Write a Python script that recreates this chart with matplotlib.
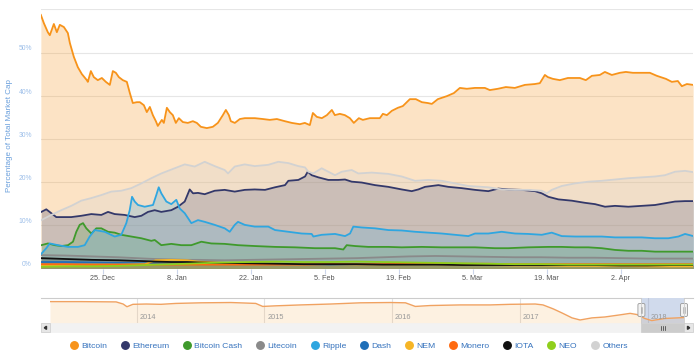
import numpy as np
import pandas as pd
import matplotlib
matplotlib.use("Agg")
import matplotlib.pyplot as plt
import matplotlib.dates as mdates
from matplotlib.patches import Rectangle, FancyBboxPatch, Polygon
from matplotlib.lines import Line2D

plt.rcParams['font.family'] = ['Liberation Sans', 'DejaVu Sans']

# ---------------- data ----------------
START = pd.Timestamp('2017-12-13')   # day offsets below are counted from this date

series_names = ['Bitcoin', 'Ethereum', 'Bitcoin Cash', 'Litecoin', 'Ripple', 'Dash',
                'NEM', 'Monero', 'IOTA', 'NEO', 'Others']
series_colors = ['#f7931a', '#33386a', '#3f9a2c', '#8a8a8a', '#2fa6e0', '#1f6fb8',
                 '#f6b526', '#ff6a10', '#111111', '#8fcf1c', '#d2d2d2']

btc_days = [0.3, 0.87, 1.62, 2.0, 2.76, 3.33, 3.89, 4.65, 5.41, 5.79,
            6.54, 7.3, 8.06, 9.0, 9.19, 9.76, 10.32, 11.08, 11.84, 12.6,
            13.35, 13.92, 14.49, 15.06, 15.81, 16.57, 17.14, 17.7, 18.46, 19.03,
            19.79, 20.35, 20.92, 21.49, 22.06, 22.43, 23.19, 23.57, 24.14, 24.7,
            25.27, 25.84, 26.41, 27.16, 28.11, 29.06, 29.81, 30.57, 31.7, 32.84,
            33.79, 34.73, 35.3, 35.87, 36.24, 37.0, 37.95, 38.89, 40.78, 42.3,
            43.62, 44.95, 46.46, 47.78, 49.3, 50.24, 51.19, 51.76, 52.51, 53.46,
            54.41, 55.35, 55.92, 56.86, 57.81, 58.76, 59.51, 60.46, 61.22, 62.54,
            64.43, 65.0, 65.76, 66.7, 67.84, 68.78, 70.11, 71.24, 72.38, 73.51,
            74.27, 75.4, 77.11, 78.43, 79.57, 80.89, 82.4, 84.3, 85.24, 86.76,
            88.27, 89.97, 91.86, 93.75, 94.7, 95.65, 96.21, 97.16, 98.48, 100.0,
            102.27, 103.4, 104.54, 106.05, 107.0, 108.32, 109.84, 110.97, 112.29, 113.62,
            115.51, 116.83, 118.54, 119.67, 120.8, 121.56, 122.51, 123.7]
btc_vals = [58.7, 56.8, 54.7, 54.0, 56.6, 54.7, 56.4, 55.9, 54.5, 52.2,
            49.0, 46.6, 45.0, 43.6, 43.2, 45.7, 44.3, 43.6, 44.1, 43.2,
            42.5, 45.7, 45.3, 44.3, 43.6, 43.2, 40.6, 38.3, 38.5, 38.5,
            37.8, 36.2, 37.4, 35.5, 34.1, 33.0, 34.4, 33.7, 37.2, 36.2,
            35.5, 33.7, 34.8, 33.9, 33.7, 34.1, 33.7, 32.8, 32.5, 32.8,
            33.7, 35.5, 36.7, 35.5, 34.1, 33.7, 34.6, 34.8, 34.8, 34.6,
            34.4, 34.6, 34.1, 33.7, 33.4, 33.7, 33.2, 36.0, 35.1, 34.8,
            35.5, 36.7, 35.5, 35.8, 35.5, 34.8, 33.7, 34.8, 34.4, 34.8,
            34.8, 35.8, 35.5, 36.5, 37.2, 37.6, 39.2, 39.2, 38.5, 38.3,
            38.1, 39.2, 39.9, 40.6, 41.8, 41.6, 41.8, 41.8, 41.3, 41.6,
            42.0, 41.8, 42.5, 42.7, 42.9, 44.8, 44.3, 43.9, 43.6, 44.1,
            44.1, 43.6, 44.6, 44.8, 45.5, 44.8, 45.3, 45.5, 45.3, 45.3,
            45.3, 44.6, 43.9, 43.2, 43.4, 42.2, 42.7, 42.5]

eth_days = [0.39, 1.33, 2.28, 3.22, 4.81, 6.06, 7.95, 9.85, 11.74, 13.01,
            14.27, 16.16, 18.06, 19.31, 20.57, 21.84, 23.09, 24.98, 26.25, 27.52,
            28.46, 29.09, 30.03, 31.3, 33.19, 35.08, 36.98, 38.87, 40.76,
            42.71, 44.6, 46.49, 47.12, 49.01, 50.28, 50.79, 51.54, 52.79, 54.68,
            56.57, 57.84, 59.11, 61.0, 63.52, 66.03, 68.57, 70.46, 71.71, 72.98,
            75.5, 77.38, 79.92, 82.44,
            84.95, 86.85, 88.74, 91.27, 93.79, 95.06, 96.31, 98.2, 100.73, 103.25,
            105.14, 107.03, 108.92, 111.44, 113.97, 116.49, 118.38, 120.27, 122.17, 123.73]
eth_vals = [13.1, 13.7, 12.8, 11.9, 11.9, 11.9, 12.2, 12.6, 12.4, 13.1,
            12.6, 12.4, 11.9, 12.2, 13.1, 13.5, 13.1, 13.5, 14.3, 15.5,
            18.3, 17.4, 17.5, 17.2, 18.0, 18.2, 17.8, 18.2, 18.3,
            18.2, 18.8, 19.3, 20.3, 20.5, 21.3, 22.4, 21.6, 21.1, 20.5,
            20.5, 20.6, 20.1, 19.9, 19.3, 18.9, 18.3, 17.9, 18.3, 18.9,
            19.3, 18.9, 18.6, 18.2,
            17.9, 18.5, 18.3, 18.2, 17.9, 17.4, 16.6, 16.0, 15.7, 15.2,
            14.9, 14.3, 14.5, 14.3, 14.5, 14.7, 15.1, 15.5, 15.6, 15.6]

bch_days = [0.39, 1.65, 2.92, 4.17, 5.44, 6.38, 7.01, 7.65, 8.28, 8.9,
            9.85, 10.79, 11.74, 13.01, 14.27, 15.52, 17.41, 19.31, 21.2, 21.84,
            23.09, 24.98, 26.87, 28.77, 30.66, 32.55, 35.08, 37.6, 40.76,
            44.6, 48.38, 52.17, 55.95, 57.52, 58.16, 59.73, 62.25, 66.03, 68.57,
            72.36, 76.14, 79.92, 82.44,
            86.22, 88.74, 92.52, 96.31, 98.84, 101.36, 103.88, 106.41, 108.92, 111.44,
            113.97, 116.49, 120.27, 123.73]
bch_vals = [5.4, 5.8, 5.4, 5.2, 5.4, 6.2, 8.5, 10.1, 10.5, 9.3,
            8.1, 9.3, 9.3, 8.5, 8.3, 7.8, 7.4, 7.0, 6.4, 6.6,
            5.4, 5.7, 5.4, 5.4, 6.2, 5.8, 5.7, 5.4, 5.2,
            5.0, 4.9, 4.7, 4.7, 4.4, 5.4, 5.2, 5.0, 5.0, 4.9,
            5.0, 4.9, 4.9, 4.9,
            4.7, 4.7, 4.9, 5.0, 5.0, 4.9, 4.9, 4.7, 4.3, 4.1,
            4.1, 3.9, 3.9, 3.9]

xrp_days = [0.39, 1.33, 1.98, 3.55, 5.44, 7.33, 8.6, 9.54, 10.49, 12.38,
            14.27, 15.52, 16.47, 17.11, 17.55, 18.06, 18.68, 19.95, 21.52, 22.14,
            22.6, 23.09, 24.04, 24.98, 25.93, 26.57, 27.52, 28.77, 30.03, 31.3,
            33.19, 35.08, 36.03, 36.98, 37.6, 38.87, 40.76,
            42.08, 43.33, 44.6, 47.12, 49.65, 51.54, 51.85, 53.43, 55.95, 57.84,
            58.79, 59.41, 61.0, 63.52, 66.03, 68.57, 71.09, 73.6, 76.14, 78.65,
            81.17, 82.44,
            84.95, 87.49, 90.0, 92.52, 95.06, 96.95, 98.84, 101.36, 103.88, 106.41,
            108.92, 111.44, 113.97, 116.49, 119.0, 120.9, 122.17, 123.73]
xrp_vals = [3.4, 4.7, 5.8, 5.4, 5.0, 5.0, 5.4, 7.4, 8.9, 8.5,
            7.4, 7.8, 10.5, 13.5, 16.6, 15.5, 14.7, 14.3, 14.7, 17.0,
            18.8, 17.4, 15.5, 14.9, 15.9, 13.9, 12.8, 10.5, 11.2, 10.8,
            10.1, 9.3, 8.5, 10.1, 10.8, 10.1, 9.7,
            9.7, 9.7, 8.9, 8.5, 8.1, 8.0, 7.4, 7.8, 8.0, 7.5,
            8.1, 9.7, 9.5, 9.3, 8.9, 8.8, 8.5, 8.3, 8.1, 7.8,
            7.5, 8.1,
            8.1, 8.5, 8.1, 8.0, 7.8, 8.3, 7.5, 7.4, 7.4, 7.4,
            7.2, 7.2, 7.2, 7.0, 7.0, 7.4, 8.0, 7.5]

others_days = [0.39, 2.28, 4.17, 6.06, 7.95, 9.85, 11.74, 13.63, 15.52, 17.41,
               19.31, 21.2, 23.09, 25.62, 27.52, 29.41, 31.3, 33.19, 35.08, 35.71,
               36.98, 38.87, 40.76,
               43.33, 45.22, 47.12, 49.01, 50.28, 50.9, 51.85, 53.43, 54.68, 55.95,
               57.22, 59.11, 60.36, 62.89, 66.03, 68.57, 71.09, 73.6, 76.14, 78.65,
               81.17, 82.44,
               84.95, 87.49, 90.0, 92.52, 95.06, 96.0, 96.95, 98.84, 101.36, 103.88,
               106.41, 108.92, 111.44, 113.97, 116.49, 118.38, 120.27, 122.17, 123.73]
others_vals = [11.2, 12.4, 13.5, 14.5, 15.7, 16.3, 17.0, 17.8, 18.0, 18.6,
               19.7, 20.9, 22.0, 23.2, 24.1, 23.6, 24.7, 23.7, 22.8, 22.0,
               23.6, 24.1, 23.7,
               24.0, 24.7, 24.4, 23.7, 23.4, 22.4, 22.0, 23.2, 22.4, 21.6,
               22.4, 22.8, 22.0, 22.2, 21.9, 21.3, 20.3, 20.5, 20.3, 19.7,
               19.1, 19.0,
               18.8, 18.3, 18.2, 18.2, 18.0, 17.4, 18.2, 19.1, 19.7, 20.1,
               20.3, 20.6, 20.9, 21.1, 21.3, 21.6, 22.4, 22.6, 22.3]

small_days = [0.3, 5, 10, 15, 20, 22, 25, 28, 30, 35, 40, 45, 50, 55, 60, 65, 70,
              75, 80, 85, 90, 95, 100, 105, 110, 115, 120, 123.7]
ltc_vals = [3.1, 3.0, 2.8, 2.6, 2.3, 2.2, 2.1, 2.0, 2.0, 1.9, 2.0, 2.1, 2.2, 2.3,
            2.4, 2.6, 2.8, 2.9, 2.8, 2.7, 2.6, 2.6, 2.5, 2.5, 2.4, 2.3, 2.3, 2.3]
dash_vals = [1.5, 1.5, 1.4, 1.3, 1.2, 1.2, 1.1, 1.1, 1.0, 1.0, 1.0, 1.0, 1.0, 0.9,
             0.9, 0.9, 0.9, 0.9, 0.9, 0.8, 0.8, 0.8, 0.8, 0.8, 0.8, 0.7, 0.7, 0.7]
nem_vals = [0.8, 0.8, 0.9, 0.9, 1.0, 1.9, 2.0, 1.9, 1.6, 1.3, 1.2, 1.1, 1.0, 1.0,
            0.9, 0.9, 0.9, 0.9, 0.8, 0.8, 0.7, 0.7, 0.6, 0.6, 0.6, 0.5, 0.5, 0.5]
xmr_vals = [1.0, 1.0, 0.9, 0.9, 0.9, 0.9, 0.9, 0.9, 0.9, 0.9, 0.9, 0.9, 0.9, 1.0,
            1.0, 1.0, 1.1, 1.1, 1.1, 1.1, 1.0, 1.0, 1.0, 1.0, 1.0, 1.0, 1.0, 1.0]
iota_vals = [2.4, 2.2, 2.0, 1.9, 1.7, 1.6, 1.5, 1.5, 1.4, 1.3, 1.2, 1.1, 1.0, 1.0,
             1.0, 0.9, 0.9, 0.9, 0.8, 0.8, 0.8, 0.8, 0.8, 0.8, 0.7, 0.7, 0.8, 0.8]
neo_vals = [0.4, 0.5, 0.5, 0.6, 0.8, 0.9, 1.0, 1.1, 1.2, 1.4, 1.5, 1.6, 1.5, 1.5,
            1.6, 1.5, 1.4, 1.3, 1.2, 1.1, 1.0, 1.0, 0.9, 0.9, 0.9, 0.9, 0.9, 0.9]

xtick_dates = ['2017-12-25', '2018-01-08', '2018-01-22', '2018-02-05',
               '2018-02-19', '2018-03-05', '2018-03-19', '2018-04-02']
xtick_labels = ['25. Dec', '8. Jan', '22. Jan', '5. Feb', '19. Feb', '5. Mar', '19. Mar', '2. Apr']
ytick_vals = [0, 10, 20, 30, 40, 50, 60]
ytick_labels = ['0%', '10%', '20%', '30%', '40%', '50%', '']

# navigator: Bitcoin dominance over the whole history
nav_dates = ['2013-04-28', '2013-07-26', '2013-11-03', '2013-11-23', '2013-12-04', '2013-12-21',
             '2014-01-28', '2014-03-11', '2014-04-23', '2014-07-03', '2014-09-27', '2014-12-07',
             '2014-12-27', '2015-02-02', '2015-04-14', '2015-07-09', '2015-10-02', '2015-12-27',
             '2016-02-08', '2016-03-07', '2016-04-19', '2016-07-14', '2016-10-07', '2016-12-03',
             '2017-02-13', '2017-03-07', '2017-04-05', '2017-05-01', '2017-05-29', '2017-06-21',
             '2017-07-25', '2017-08-31', '2017-10-13', '2017-11-11', '2017-12-01', '2017-12-23',
             '2018-01-12', '2018-02-18', '2018-04-14']
nav_vals = [94, 94, 93, 86, 77, 85, 86, 85, 88, 90, 91, 88, 78, 80, 83, 86, 90, 91,
            90, 78, 81, 83, 83, 85, 86, 83, 70, 56, 40, 33, 40, 43, 50, 55, 51, 38,
            31, 38, 41]
nav_years = ['2014', '2015', '2016', '2017', '2018']

# ---------------- drawing ----------------
W, H = 700, 355
fig = plt.figure(figsize=(W / 100, H / 100), dpi=100)


def box(l, t, r, b):
    return [l / W, 1 - b / H, (r - l) / W, (b - t) / H]


def to_dates(days):
    return START + pd.to_timedelta(np.asarray(days, dtype=float), unit='D')


series = [(btc_days, btc_vals), (eth_days, eth_vals), (bch_days, bch_vals),
          (small_days, ltc_vals), (xrp_days, xrp_vals), (small_days, dash_vals),
          (small_days, nem_vals), (small_days, xmr_vals), (small_days, iota_vals),
          (small_days, neo_vals), (others_days, others_vals)]

ax = fig.add_axes(box(41, 9.3, 693, 268.5))
for (d, v), c in zip(series, series_colors):
    dt = to_dates(d)
    ax.fill_between(dt, v, 0, color=c, alpha=0.25, lw=0)
    ax.plot(dt, v, color=c, lw=1.3, solid_joinstyle='round')

x0 = START + pd.Timedelta(days=0.33)
x1 = START + pd.Timedelta(days=123.67)
ax.set_xlim(x0, x1)
ax.set_ylim(0, 60)
ax.set_yticks(ytick_vals)
ax.set_yticklabels(ytick_labels)
ax.set_xticks(pd.to_datetime(xtick_dates))
ax.set_xticklabels(xtick_labels)
ax.grid(axis='y', color='#e6e6e6', lw=0.8)
ax.set_axisbelow(True)
for s in ax.spines.values():
    s.set_visible(False)
ax.tick_params(axis='y', length=0, pad=6.5, labelsize=4.9, labelcolor='#9dbfe9')
ax.tick_params(axis='x', length=3.6, width=0.8, color='#ccd6eb', pad=1.2,
               labelsize=5.2, labelcolor='#555555')
for t in ax.get_yticklabels():
    t.set_va('bottom')

fig.text(10 / W, 1 - 136 / H, 'Percentage of Total Market Cap', rotation=90,
         ha='center', va='center', fontsize=5.8, color='#6a9fdc')

# navigator
nav = fig.add_axes(box(50, 298, 684, 323))
nd = pd.to_datetime(nav_dates)
nav.fill_between(nd, nav_vals, 0, color='#f7931a', alpha=0.13, lw=0)
nav.plot(nd, nav_vals, color='#f0a261', lw=1.0)
nav.set_xlim(nd[0], nd[-1])
nav.set_ylim(23, 106)
for yr in nav_years:
    d = pd.Timestamp(yr + '-01-01')
    nav.axvline(d, color='#e2e2e2', lw=0.8, zorder=0)
    nav.text(d + pd.Timedelta(days=8), 28, yr, fontsize=5.3, color='#999999',
             ha='left', va='bottom')
nav.axvspan(x0, x1, color=(102 / 255, 133 / 255, 194 / 255), alpha=0.3, lw=0)
nav.set_xticks([])
nav.set_yticks([])
for s in nav.spines.values():
    s.set_visible(False)
nav.patch.set_alpha(0)

# overlay for navigator / scrollbar chrome (pixel coordinates)
ov = fig.add_axes([0, 0, 1, 1])
ov.set_xlim(0, W)
ov.set_ylim(H, 0)
ov.axis('off')
ov.patch.set_alpha(0)

sel_l = nav.transData.transform((mdates.date2num(x0), 0))[0]
sel_r = min(nav.transData.transform((mdates.date2num(x1), 0))[0], 684)

ov.plot([41, sel_l], [298.3, 298.3], color='#cccccc', lw=0.8)
ov.plot([sel_r, 693], [298.3, 298.3], color='#cccccc', lw=0.8)
ov.plot([sel_l, sel_l], [298.3, 323], color='#cccccc', lw=0.6)
ov.plot([sel_r, sel_r], [298.3, 323], color='#cccccc', lw=0.6)

# scrollbar
ov.add_patch(Rectangle((41, 323.3), 652, 9, facecolor='#f2f2f2', edgecolor='#f2f2f2', lw=0.5))
ov.add_patch(Rectangle((sel_l, 323.3), sel_r - sel_l, 9, facecolor='#cccccc', edgecolor='#cccccc', lw=0.5))
for gx in (-2, 0, 2):
    xm = (sel_l + sel_r) / 2 + gx
    ov.plot([xm, xm], [325.8, 329.8], color='#333333', lw=0.5)
for bx in (41, 684):
    ov.add_patch(Rectangle((bx, 323.3), 9, 9, facecolor='#e6e6e6', edgecolor='#cccccc', lw=0.5))
ov.add_patch(Polygon([[44.3, 327.8], [46.5, 326.2], [46.5, 329.4]], closed=True, color='#333333'))
ov.add_patch(Polygon([[689.7, 327.8], [687.5, 326.2], [687.5, 329.4]], closed=True, color='#333333'))

# navigator handles
for hx in (sel_l, sel_r):
    ov.add_patch(FancyBboxPatch((hx - 3.5, 303.5), 7, 13, boxstyle='round,pad=0,rounding_size=1.5',
                                facecolor='#f2f2f2', edgecolor='#999999', lw=0.6))
    ov.plot([hx - 0.8, hx - 0.8], [307, 313], color='#999999', lw=0.4)
    ov.plot([hx + 0.8, hx + 0.8], [307, 313], color='#999999', lw=0.4)

# legend
handles = [Line2D([], [], marker='o', ls='', markersize=5.4, markerfacecolor=c,
                  markeredgecolor=c) for c in series_colors]
fig.legend(handles, series_names, loc='center', bbox_to_anchor=(349 / W, 1 - 346 / H),
           ncol=11, frameon=False, fontsize=6.1, handlelength=0.9, handletextpad=0.4,
           columnspacing=1.65, labelcolor='#3572bd', borderaxespad=0, borderpad=0)

fig.savefig('out.png', dpi=100)
